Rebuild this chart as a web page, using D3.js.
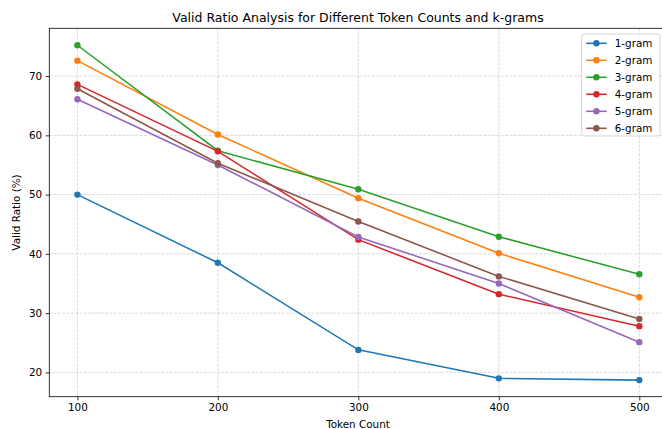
<!DOCTYPE html>
<html>
<head>
<meta charset="utf-8">
<script src="https://cdn.jsdelivr.net/npm/d3@7"></script>
<style>
  body { margin: 0; background: #fff; }
  svg { display: block; font-family: "DejaVu Sans", sans-serif; }
</style>
</head>
<body>
<svg id="chart" width="662" height="429"></svg>
<script>
var tokenCounts = [100, 200, 300, 400, 500];
var seriesNames = ['1-gram', '2-gram', '3-gram', '4-gram', '5-gram', '6-gram'];
var gram1 = [50.0, 38.5, 23.8, 19.0, 18.7];
var gram2 = [72.6, 60.15, 49.4, 40.1, 32.7];
var gram3 = [75.2, 57.4, 50.9, 42.9, 36.55];
var gram4 = [68.6, 57.3, 42.4, 33.2, 27.8];
var gram5 = [66.1, 55.0, 42.85, 35.0, 25.1];
var gram6 = [67.85, 55.3, 45.45, 36.2, 29.0];
var yTicks = [20, 30, 40, 50, 60, 70];
var colors = ['#1f77b4', '#ff7f0e', '#2ca02c', '#d62728', '#9467bd', '#8c564b'];

(function(){
  var series = [gram1, gram2, gram3, gram4, gram5, gram6].map(function(vals, i){
    return {name: seriesNames[i], color: colors[i], values: vals};
  });

  var svg = d3.select('#chart');
  var plotLeft = 49.3, plotRight = 667.4, plotTop = 28.3, plotBottom = 396.7;

  var x = d3.scaleLinear().domain([80, 520]).range([plotLeft, plotRight]);
  var y = d3.scaleLinear().domain([15.9, 78.06]).range([plotBottom, plotTop]);

  // grid
  var grid = svg.append('g');
  grid.selectAll('line.gx').data(tokenCounts).enter().append('line')
      .attr('class', 'gx')
      .attr('x1', function(d){ return x(d); }).attr('x2', function(d){ return x(d); })
      .attr('y1', plotTop).attr('y2', plotBottom);
  grid.selectAll('line.gy').data(yTicks).enter().append('line')
      .attr('class', 'gy')
      .attr('x1', plotLeft).attr('x2', plotRight)
      .attr('y1', function(d){ return y(d); }).attr('y2', function(d){ return y(d); });
  grid.selectAll('line')
      .attr('stroke', '#b0b0b0').attr('stroke-opacity', 0.6)
      .attr('stroke-width', 0.8).attr('stroke-dasharray', '3,1.3');

  // axes
  var xAxis = svg.append('g').attr('transform', 'translate(0,' + plotBottom + ')')
      .call(d3.axisBottom(x).tickValues(tokenCounts).tickSize(3.6).tickPadding(3.6));
  var yAxis = svg.append('g').attr('transform', 'translate(' + plotLeft + ',0)')
      .call(d3.axisLeft(y).tickValues(yTicks).tickSize(3.6).tickPadding(3.6));
  [xAxis, yAxis].forEach(function(a){
    a.select('.domain').remove();
    a.selectAll('text').attr('font-size', '10.4px').attr('fill', '#000')
      .attr('font-family', '"DejaVu Sans", sans-serif');
    a.selectAll('line').attr('stroke', '#000').attr('stroke-width', 0.8);
  });

  // frame
  svg.append('rect').attr('x', plotLeft).attr('y', plotTop)
      .attr('width', plotRight - plotLeft).attr('height', plotBottom - plotTop)
      .attr('fill', 'none').attr('stroke', '#000').attr('stroke-width', 0.8);

  // lines
  var line = d3.line()
      .x(function(d, i){ return x(tokenCounts[i]); })
      .y(function(d){ return y(d); });

  var groups = svg.selectAll('g.series').data(series).enter().append('g').attr('class', 'series');
  groups.append('path')
      .attr('d', function(s){ return line(s.values); })
      .attr('fill', 'none').attr('stroke', function(s){ return s.color; })
      .attr('stroke-width', 1.56);
  groups.selectAll('circle').data(function(s){
      return s.values.map(function(v, i){ return {v: v, i: i, color: s.color}; });
    }).enter().append('circle')
      .attr('cx', function(d){ return x(tokenCounts[d.i]); })
      .attr('cy', function(d){ return y(d.v); })
      .attr('r', 3.2)
      .attr('fill', function(d){ return d.color; });

  // title and labels
  svg.append('text').attr('x', 358).attr('y', 22)
      .attr('text-anchor', 'middle').attr('font-size', '12.5px').text('Valid Ratio Analysis for Different Token Counts and k-grams');
  svg.append('text').attr('x', 358).attr('y', 428)
      .attr('text-anchor', 'middle').attr('font-size', '10.4px').text('Token Count');
  svg.append('text').attr('transform', 'translate(20,' + (plotTop + plotBottom) / 2 + ') rotate(-90)')
      .attr('text-anchor', 'middle').attr('font-size', '10.4px').text('Valid Ratio (%)');

  // legend
  var legend = svg.append('g').attr('transform', 'translate(581.7,34)');
  legend.append('rect').attr('width', 78.3).attr('height', 102).attr('rx', 2.5)
      .attr('fill', '#fff').attr('fill-opacity', 0.8)
      .attr('stroke', '#cccccc').attr('stroke-width', 0.8);
  var items = legend.selectAll('g.item').data(series).enter().append('g')
      .attr('transform', function(d, i){ return 'translate(0,' + (9.3 + i * 17) + ')'; });
  items.append('line').attr('x1', 4.5).attr('x2', 25).attr('y1', 0).attr('y2', 0)
      .attr('stroke', function(d){ return d.color; }).attr('stroke-width', 1.56);
  items.append('circle').attr('cx', 14.7).attr('cy', 0).attr('r', 3.2)
      .attr('fill', function(d){ return d.color; });
  items.append('text').attr('x', 33).attr('y', 3.8).attr('font-size', '10.4px')
      .text(function(d){ return d.name; });
})();
</script>
</body>
</html>
